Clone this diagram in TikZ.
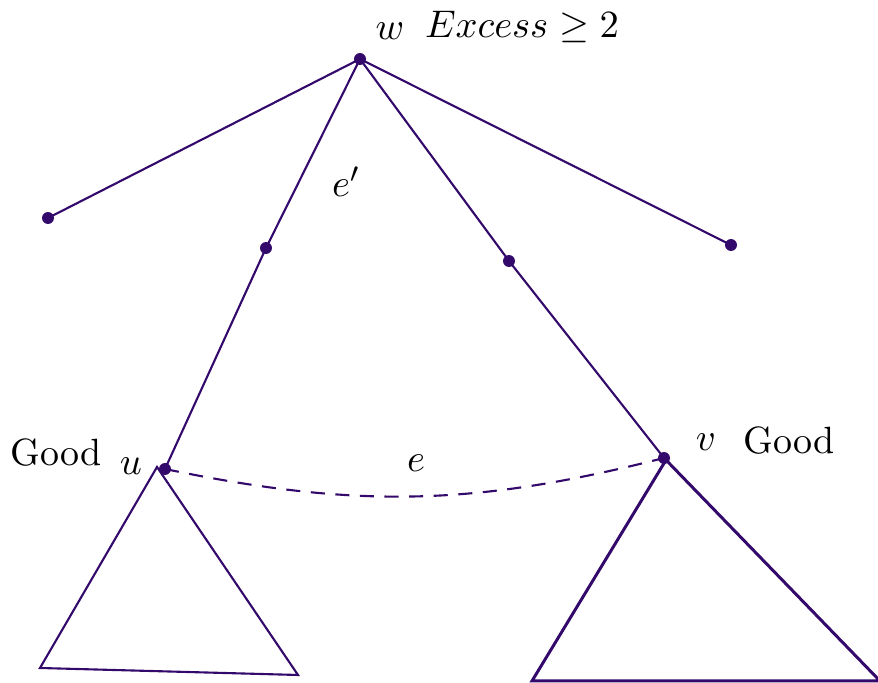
\documentclass[tikz,border=0pt]{standalone}
\usepackage{amsmath,amssymb}
\usepackage{tikz}
\usetikzlibrary{positioning,calc}
\definecolor{Ink}{HTML}{33096B}
\tikzset{
 vert/.style={circle,fill=Ink,draw=none,inner sep=0pt,minimum size=3.4pt},
 edg/.style={draw=Ink,line width=0.6pt},
 nontree/.style={edg,dashed,dash pattern=on 4pt off 3pt},
 subtree/.style={draw=Ink,line width=0.6pt,line join=miter},
 lbl/.style={font=\fontsize{10.8}{13}\selectfont,inner sep=1pt}
}
\begin{document}
\begin{tikzpicture}[x=0.01cm,y=-0.01cm]
\useasboundingbox (0,0) rectangle (878,683);
\node[vert] (w) at (360,59) {};
\node[vert] (l) at (48,218) {};
\node[vert] (r) at (731,245) {};
\node[vert] (m1) at (266,248) {};
\node[vert] (m2) at (509,261) {};
\node[vert] (u) at (165,469) {};
\node[vert] (v) at (664,458) {};
% labels
\node[lbl] (wl) at (390,31) {$w$};
\node[lbl] (ex) at (522,27) {$Excess \geq 2$};
\node[lbl] (ep) at (346,182) {$e'$};
\node[lbl] (ul) at (131,466) {$u$};
\node[lbl] (ug) at (56,453) {Good};
\node[lbl] (vl) at (706,442) {$v$};
\node[lbl] (vg) at (789,441) {Good};
\node[lbl] (el) at (416,463) {$e$};
% tree edges
\draw[edg] (w.center)--(l.center);\draw[edg] (w.center)--(r.center);
\draw[edg] (w.center)--(m1.center);\draw[edg] (m1.center)--(u.center);
\draw[edg] (w.center)--(m2.center);\draw[edg] (m2.center)--(v.center);
\draw[nontree] (u.center) to[bend right=13] (v.center);
% subtrees
\draw[subtree] (157,467)--(40,668)--(298,675)--cycle;
\draw[subtree,line width=0.85pt] (666,460)--(532,681)--(880,681)--cycle;
\end{tikzpicture}
\end{document}
